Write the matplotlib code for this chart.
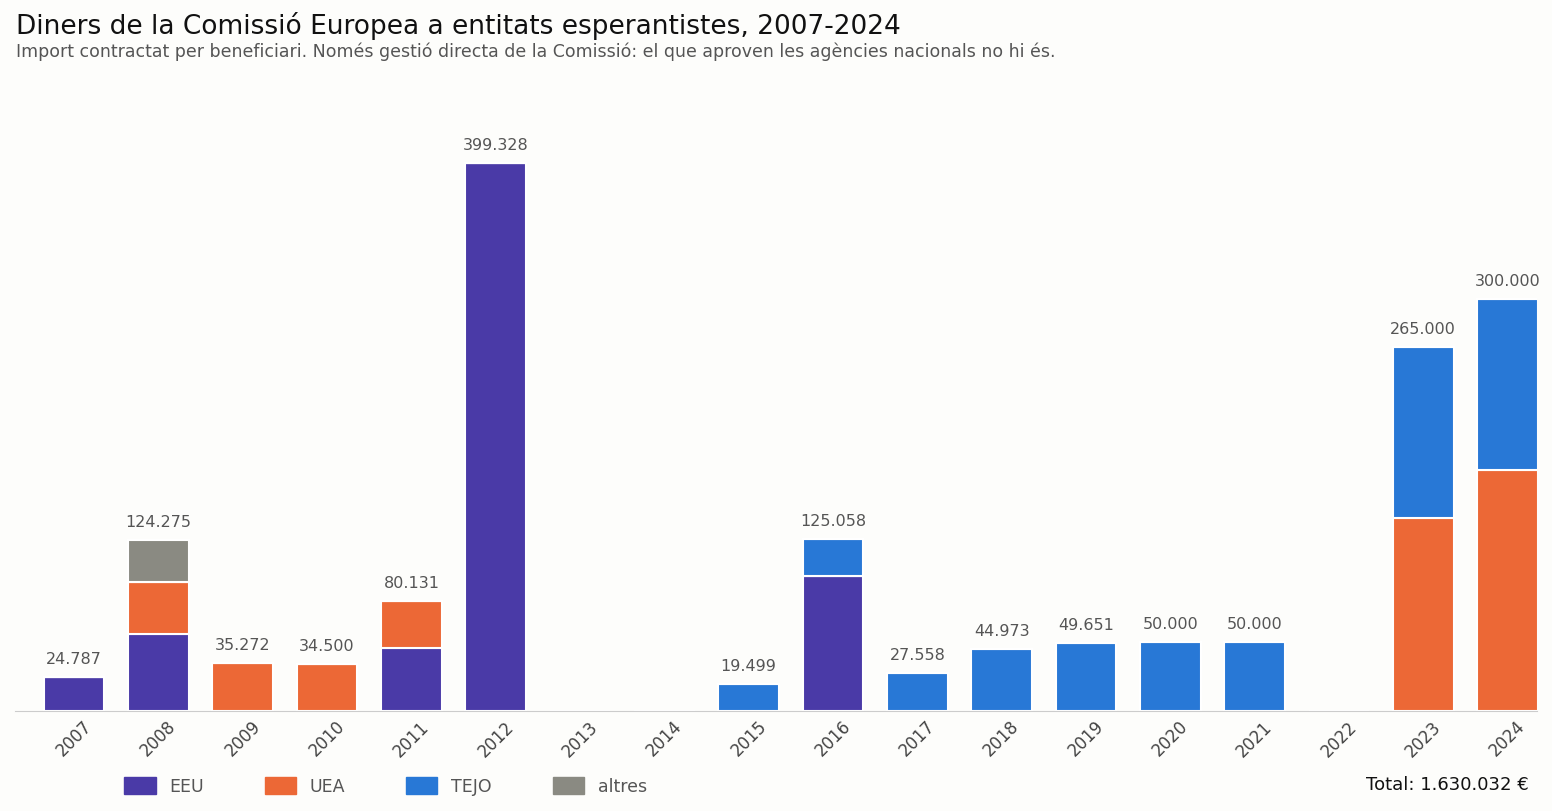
import matplotlib
matplotlib.use("Agg")
import matplotlib.pyplot as plt
import numpy as np
from matplotlib.patches import Patch

years = [str(y) for y in range(2007, 2025)]
eeu  = [24787, 56500, 0, 0, 46100, 399328, 0, 0, 0, 98200, 0, 0, 0, 0, 0, 0, 0, 0]
uea  = [0, 37200, 35272, 34500, 34031, 0, 0, 0, 0, 0, 0, 0, 0, 0, 0, 0, 141000, 175500]
tejo = [0, 0, 0, 0, 0, 0, 0, 0, 19499, 26858, 27558, 44973, 49651, 50000, 50000, 0, 124000, 124500]
altres = [0, 30575, 0, 0, 0, 0, 0, 0, 0, 0, 0, 0, 0, 0, 0, 0, 0, 0]
series = [("EEU", eeu, "#4a3aa7"), ("UEA", uea, "#ec6836"),
          ("TEJO", tejo, "#2878d6"), ("altres", altres, "#8a8a82")]
totals = [24787, 124275, 35272, 34500, 80131, 399328, 0, 0, 19499, 125058,
          27558, 44973, 49651, 50000, 50000, 0, 265000, 300000]

bg = "#fdfdfb"
fig = plt.figure(figsize=(15.52, 8.12), dpi=100, facecolor=bg)
ax = fig.add_axes([0.0097, 0.123, 0.9807, 0.78], facecolor=bg)
x = np.arange(len(years))
bottom = np.zeros(len(years))
for name, vals, col in series:
    v = np.array(vals, dtype=float)
    ax.bar(x, v, 0.72, bottom=bottom, color=col, edgecolor="white", linewidth=1.5)
    bottom += v
def fmt(v):
    return f"{v:,}".replace(",", ".")
for xi, t in zip(x, totals):
    if t > 0:
        ax.text(xi, t + 8000, fmt(t), ha="center", va="bottom", fontsize=11.5, color="#555555")
ax.set_xlim(-0.7, 17.35)
ax.set_ylim(0, 399328 * 1.155)
ax.set_yticks([])
ax.set_xticks(x)
ax.set_xticklabels(years, rotation=45, fontsize=12, color="#444444")
ax.tick_params(axis="x", length=0, pad=4)
for s in ["top", "right", "left"]:
    ax.spines[s].set_visible(False)
ax.spines["bottom"].set_color("#cccccc")

fig.text(0.0105, 0.985, "Diners de la Comissió Europea a entitats esperantistes, 2007-2024",
         fontsize=19, va="top", color="#111111")
fig.text(0.0105, 0.948, "Import contractat per beneficiari. Només gestió directa de la Comissió: el que aproven les agències nacionals no hi és.",
         fontsize=12.5, va="top", color="#555555")
handles = [Patch(color=c, label=n) for n, _, c in series]
fig.legend(handles=handles, loc="lower left", bbox_to_anchor=(0.07, 0.0), ncol=4,
           frameon=False, fontsize=12.5, handlelength=1.8, handleheight=1.1,
           columnspacing=3.5, labelcolor="#555555")
fig.text(0.985, 0.033, "Total: 1.630.032 €", ha="right", va="center", fontsize=13, color="#111111")
fig.savefig("out.png", dpi=100, facecolor=bg)
